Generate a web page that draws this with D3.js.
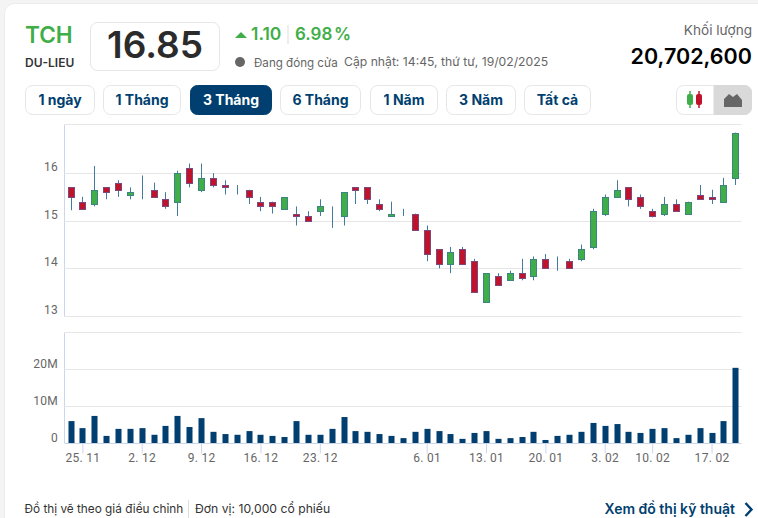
<!DOCTYPE html>
<html>
<head>
<meta charset="utf-8">
<script src="https://cdn.jsdelivr.net/npm/d3@7"></script>
<style>
  html, body { margin: 0; padding: 0; background: #f4f4f4; overflow: hidden; }
  svg { display: block; font-family: Inter, "Noto Sans", sans-serif; }
  .axis text { font-family: Roboto, sans-serif; font-size: 12px; fill: #666; letter-spacing: .3px; }
</style>
</head>
<body>
<svg id="chart" width="758" height="518"></svg>
<script>
// trading days, 22/11/2024 -> 19/02/2025
const dates = [
  '22. 11','25. 11','26. 11','27. 11','28. 11','29. 11',
  '2. 12','3. 12','4. 12','5. 12','6. 12',
  '9. 12','10. 12','11. 12','12. 12','13. 12',
  '16. 12','17. 12','18. 12','19. 12','20. 12',
  '23. 12','24. 12','25. 12','26. 12','27. 12',
  '30. 12','31. 12','2. 01','3. 01',
  '6. 01','7. 01','8. 01','9. 01','10. 01',
  '13. 01','14. 01','15. 01','16. 01','17. 01',
  '20. 01','21. 01','22. 01','23. 01','24. 01',
  '3. 02','4. 02','5. 02','6. 02',
  '10. 02','11. 02','12. 02','13. 02','14. 02',
  '17. 02','18. 02','19. 02'
];
const opens = [
  15.70,15.40,15.35,15.70,15.80,15.55,15.60,15.65,15.45,15.40,16.10,15.65,15.90,15.75,15.70,15.65,15.40,15.40,15.25,
  15.15,15.10,15.20,15.10,15.10,15.70,15.70,15.35,15.10,15.15,15.15,14.80,14.40,14.10,14.40,14.15,13.30,13.85,13.75,
  13.90,13.85,14.20,14.10,14.15,14.20,14.45,15.15,15.50,15.70,15.50,15.20,15.15,15.35,15.15,15.55,15.50,15.40,15.90
];
const highs = [
  15.70,15.50,16.15,15.70,15.85,15.70,15.95,15.80,15.60,16.05,16.20,16.20,16.00,15.85,15.75,15.65,15.50,15.40,15.50,
  15.30,15.20,15.45,15.30,15.60,15.70,15.70,15.45,15.40,15.25,15.15,14.90,14.40,14.45,14.45,14.20,13.90,13.90,13.95,
  14.20,14.25,14.30,14.25,14.20,14.50,15.25,15.55,15.85,15.70,15.55,15.25,15.50,15.45,15.40,15.75,15.65,15.90,16.85
];
const lows = [
  15.22,15.25,15.30,15.45,15.50,15.45,15.45,15.50,15.25,15.10,15.70,15.60,15.70,15.55,15.55,15.35,15.20,15.15,15.25,
  14.90,15.00,15.10,14.85,14.90,15.35,15.35,15.20,15.10,15.10,14.80,14.15,14.00,13.90,14.10,13.50,13.30,13.65,13.75,
  13.75,13.75,14.00,13.95,14.00,14.15,14.40,15.10,15.50,15.30,15.25,15.07,15.10,15.20,15.15,15.45,15.35,15.40,15.75
];
const closes = [
  15.50,15.25,15.65,15.60,15.65,15.60,15.60,15.50,15.30,16.00,15.80,15.90,15.75,15.70,15.70,15.50,15.30,15.30,15.50,
  15.10,15.00,15.30,15.10,15.60,15.65,15.45,15.25,15.15,15.15,14.80,14.30,14.10,14.35,14.10,13.50,13.90,13.65,13.90,
  13.80,14.20,14.00,14.10,14.00,14.40,15.20,15.50,15.65,15.45,15.30,15.10,15.35,15.20,15.40,15.45,15.45,15.75,16.85
];
const volumes = [
  6.0,4.1,7.4,2.0,3.9,3.9,4.1,2.3,4.7,7.4,4.4,6.8,3.1,2.5,2.3,3.3,2.3,2.0,1.7,
  6.0,2.3,2.3,3.9,7.1,3.3,3.1,2.5,2.0,1.4,3.1,3.9,3.3,2.5,1.2,2.8,3.3,1.2,1.4,
  1.7,3.1,0.9,2.0,2.3,3.1,5.5,4.7,5.2,3.1,2.8,3.9,4.1,1.4,2.3,4.1,2.8,6.0,20.4
];
const xTickLabels = ['25. 11','2. 12','9. 12','16. 12','23. 12','6. 01','13. 01','20. 01','3. 02','10. 02','17. 02'];
const priceTicks = [13, 14, 15, 16];
const volumeTicks = [0, 10, 20, 30];
const rangeButtons = ['1 ngày', '1 Tháng', '3 Tháng', '6 Tháng', '1 Năm', '3 Năm', 'Tất cả'];
const buttonEdges = [[25, 95], [103, 181], [190, 272], [280, 361], [370, 438], [446, 516], [524, 591]];

const UP = '#3fae49', DOWN = '#c0122b', NAVY = '#003f6f', WICK = '#417b9e';
const GRID = '#e6e6e6', AXIS = '#ccd6eb';

const svg = d3.select('#chart');

function label(x, y, str, size, fill, weight, anchor) {
  return svg.append('text').attr('x', x).attr('y', y).text(str)
    .attr('font-size', size).attr('fill', fill)
    .attr('font-weight', weight || 400).attr('text-anchor', anchor || 'start');
}

// card
svg.append('rect').attr('x', 4.5).attr('y', 3.5).attr('width', 800).attr('height', 560)
  .attr('rx', 10).attr('fill', '#fff').attr('stroke', '#ececec');

// header
label(25, 43, 'TCH', 22.6, UP, 600);
label(25, 67, 'DU-LIEU', 12, '#333', 600);
svg.append('rect').attr('x', 90.5).attr('y', 22.5).attr('width', 129).attr('height', 48)
  .attr('rx', 7).attr('fill', '#fff').attr('stroke', '#e6e6e6');
label(155, 58, '16.85', 37, '#2b2b2b', 600, 'middle');
svg.append('path').attr('d', 'M235 38 L241 32 L247 38 Z').attr('fill', UP);
label(251, 40, '1.10', 17.5, UP, 600);
svg.append('line').attr('x1', 288).attr('x2', 288).attr('y1', 25).attr('y2', 44).attr('stroke', '#ddd');
label(295, 40, '6.98 %', 17, UP, 600).attr('word-spacing', -2.5);
svg.append('circle').attr('cx', 240).attr('cy', 62).attr('r', 5).attr('fill', '#666');
label(254, 67, 'Đang đóng cửa', 11.6, '#666');
label(344, 66, 'Cập nhật: 14:45, thứ tư, 19/02/2025', 12.2, '#666');
label(752, 35, 'Khối lượng', 13.6, '#666', 400, 'end');
label(752, 64, '20,702,600', 21.5, '#000', 600, 'end');

// range buttons
rangeButtons.forEach((b, i) => {
  const [x0, x1] = buttonEdges[i];
  const on = b === '3 Tháng';
  svg.append('rect').attr('x', x0 + .5).attr('y', 85.5).attr('width', x1 - x0 - 1).attr('height', 29)
    .attr('rx', 7).attr('fill', on ? NAVY : '#fff').attr('stroke', on ? NAVY : '#e6e6e6');
  label((x0 + x1) / 2, 105, b, 14, on ? '#fff' : NAVY, 650, 'middle');
});

// chart type switch
svg.append('rect').attr('x', 676.5).attr('y', 85.5).attr('width', 75).attr('height', 29)
  .attr('rx', 7).attr('fill', '#fff').attr('stroke', '#e6e6e6');
svg.append('path').attr('d', 'M714 85.5 H744.5 a7 7 0 0 1 7 7 V107.5 a7 7 0 0 1 -7 7 H714 Z')
  .attr('fill', '#d9d9d9').attr('stroke', '#d9d9d9');
[[690, UP], [699, DOWN]].forEach(([x, c]) => {
  svg.append('line').attr('x1', x).attr('x2', x).attr('y1', 91).attr('y2', 108).attr('stroke', c).attr('stroke-width', 1.5);
  svg.append('rect').attr('x', x - 3).attr('y', 94).attr('width', 6).attr('height', 11).attr('rx', 2).attr('fill', c);
});
svg.append('path').attr('d', 'M724 107 V99 L729 94 L733 97 L737 94 L742 100 V107 Z').attr('fill', '#666');

// scales
const x = d3.scalePoint().domain(dates).range([70.5, 735.3]);
const yPrice = d3.scaleLinear().domain([13, 17.02]).range([316, 124.5]);
const yVol = d3.scaleLinear().domain([0, 30]).range([443.3, 332.3]);
const PLOT_L = 64.5, PLOT_R = 741.5;

// price panel
const priceAxis = svg.append('g').attr('class', 'axis').attr('transform', `translate(${PLOT_L},0)`)
  .call(d3.axisLeft(yPrice).tickValues(priceTicks).tickSize(-(PLOT_R - PLOT_L)).tickPadding(0).tickFormat(d3.format('d')));
priceAxis.select('.domain').attr('stroke', AXIS).attr('d', 'M0,124.5 V316.5');
priceAxis.selectAll('.tick').attr('transform', d => `translate(0,${Math.round(yPrice(d)) + .5})`);
priceAxis.selectAll('.tick line').attr('stroke', GRID).attr('x1', 0);
priceAxis.selectAll('.tick text').attr('x', -6.5).attr('dy', 0).attr('y', -2.5);
svg.append('line').attr('x1', PLOT_L).attr('x2', PLOT_R).attr('y1', 124.5).attr('y2', 124.5).attr('stroke', GRID);

const candles = dates.map((d, i) => ({ d, o: opens[i], h: highs[i], l: lows[i], c: closes[i], v: volumes[i] }));
const BODY_W = 6;

const candle = svg.append('g').selectAll('g').data(candles).join('g');
candle.append('line')
  .attr('x1', d => Math.round(x(d.d)) + .5).attr('x2', d => Math.round(x(d.d)) + .5)
  .attr('y1', d => yPrice(d.h)).attr('y2', d => yPrice(d.l))
  .attr('stroke', WICK);
candle.append('rect')
  .attr('x', d => Math.round(x(d.d)) + .5 - BODY_W / 2)
  .attr('width', BODY_W)
  .attr('y', d => Math.round(yPrice(Math.max(d.o, d.c))) + .5)
  .attr('height', d => Math.round(yPrice(Math.min(d.o, d.c))) - Math.round(yPrice(Math.max(d.o, d.c))))
  .attr('fill', d => d.c >= d.o ? UP : DOWN)
  .attr('stroke', d => d.c === d.o ? WICK : (d.c > d.o ? '#3d8583' : '#7a4a7e'));

// volume panel
const volAxis = svg.append('g').attr('class', 'axis').attr('transform', `translate(${PLOT_L},0)`)
  .call(d3.axisLeft(yVol).tickValues(volumeTicks).tickSize(-(PLOT_R - PLOT_L)).tickPadding(0)
    .tickFormat(v => v === 30 ? '' : v === 0 ? '0' : `${v}M`));
volAxis.select('.domain').attr('stroke', AXIS).attr('d', 'M0,332.5 V443.5');
volAxis.selectAll('.tick').attr('transform', d => `translate(0,${Math.round(yVol(d)) + .5})`);
volAxis.selectAll('.tick line').attr('stroke', GRID).attr('x1', 0);
volAxis.selectAll('.tick text').attr('x', -6.5).attr('dy', 0).attr('y', -2);

svg.append('g').selectAll('rect').data(candles).join('rect')
  .attr('x', d => Math.round(x(d.d)) + .5 - 3)
  .attr('width', 6)
  .attr('y', d => yVol(d.v))
  .attr('height', d => yVol(0) - yVol(d.v))
  .attr('fill', NAVY);

// time axis
const timeAxis = svg.append('g').attr('class', 'axis').attr('transform', 'translate(0,443.5)')
  .call(d3.axisBottom(x).tickValues(xTickLabels).tickSize(10).tickPadding(0));
timeAxis.select('.domain').attr('stroke', AXIS).attr('d', `M${PLOT_L},0 H${PLOT_R}`);
timeAxis.selectAll('.tick line').attr('stroke', AXIS);

// footer
label(24.5, 513, 'Đồ thị vẽ theo giá điều chỉnh', 11.8, '#333');
svg.append('line').attr('x1', 188.5).attr('x2', 188.5).attr('y1', 500).attr('y2', 518).attr('stroke', '#ddd');
label(195, 513, 'Đơn vị: 10,000 cổ phiếu', 12.2, '#333');
label(735, 514, 'Xem đồ thị kỹ thuật', 14, NAVY, 600, 'end');
svg.append('path').attr('d', 'M745.5 503 L751.5 509.5 L745.5 516').attr('fill', 'none')
  .attr('stroke', NAVY).attr('stroke-width', 2.4);
</script>
</body>
</html>
